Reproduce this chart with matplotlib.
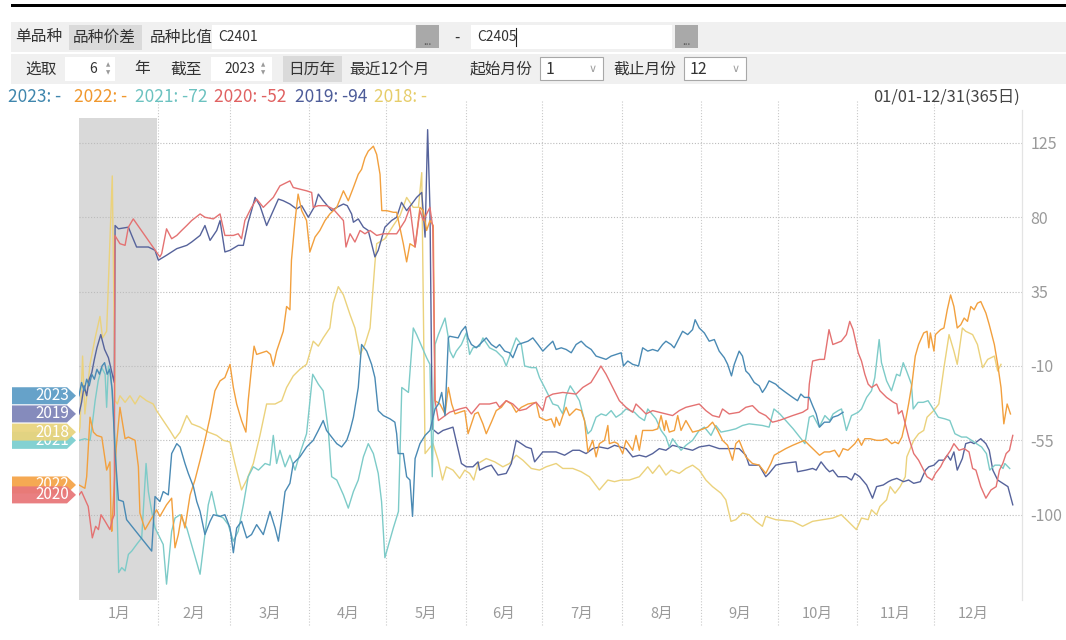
import matplotlib
matplotlib.use('Agg')
import matplotlib.pyplot as plt
from matplotlib.patches import Rectangle, Polygon
import matplotlib.transforms as mtransforms

plt.rcParams['font.family'] = ['Noto Sans CJK SC', 'DejaVu Sans']

# ---------------- data (day of year, spread value) ----------------
years = ['2023', '2022', '2021', '2020', '2019', '2018']
legend_texts = ['2023: -', '2022: -', '2021: -72', '2020: -52', '2019: -94', '2018: -']
month_labels = ['1月', '2月', '3月', '4月', '5月', '6月', '7月', '8月', '9月', '10月', '11月', '12月']
month_days = [31, 28, 31, 30, 31, 30, 31, 31, 30, 31, 30, 31]
y_ticks = [125, 80, 35, -10, -55, -100]

s2018 = [(0,-50),(0.4,-47),(1.4,-4),(2.3,-39),(4.3,-9),(6.3,7),(8.2,20),(9.2,7),(10.8,11),(13,105),(14.1,-31),(15,-33),(16,-28),(18,-32),(19.9,-28),(21.9,-33),(23.8,-28),(26.4,-31),(29,-33),(30.3,-37),(32.9,-43),(35.5,-49),(37.5,-54),(39.5,-50),(42.1,-40),(44,-45),(47.3,-47),(50.5,-50),(53.8,-52),(56.4,-55),(59,-56),(60.9,-69),(63.5,-85),(65.5,-79),(68.1,-69),(70.7,-52),(73.3,-33),(76.6,-33),(79.2,-31),(81.1,-23),(83.7,-16),(86.3,-12),(88.9,-9),(91.5,5),(93.5,2),(95.4,7),(98,13),(99.3,28),(101.3,38),(103.3,33),(105.9,21),(107.8,13),(109.8,-3),(111.7,3),(113.7,13),(115.6,52),(116.3,64),(119.5,67),(122.8,75),(125.4,81),(128,92),(130.6,86),(132.6,86),(133.9,107),(135.2,-63),(138.3,-57),(140.3,-67),(142,-79),(143.5,-71),(146.1,-73),(148.7,-78),(150.7,-73),(152.6,-75),(154.2,-79),(155.9,-69),(159.1,-66),(162.4,-68),(165.6,-71),(168.2,-69),(170.8,-64),(173.4,-67),(176.7,-72),(179.9,-73),(182.5,-71),(186.4,-69),(189,-72),(192.9,-72),(196.2,-74),(199.4,-77),(203.3,-85),(206.6,-79),(209.2,-80),(211.8,-79),(215,-79),(218.9,-77),(222.2,-71),(224.1,-75),(226.7,-70),(229.3,-76),(231.3,-73),(234.5,-75),(237.1,-72),(239.7,-70),(242.3,-73),(244.9,-79),(247.5,-83),(250.8,-87),(252.7,-91),(254.7,-104),(256.6,-103),(259.2,-99),(261.8,-100),(264.4,-104),(267,-107),(268.3,-101),(272.2,-103),(278.8,-104),(282.7,-107),(286.6,-104),(290.6,-103),(294.5,-102),(297.8,-100),(299.8,-103),(303.7,-109),(305.7,-102),(308.3,-103),(309.6,-97),(311.6,-100),(312.9,-95),(315.5,-91),(316.9,-83),(318.8,-87),(320.8,-83),(322.8,-77),(323.4,-65),(326.1,-55),(328,-51),(330,-49),(331.3,-41),(333.9,-37),(335.9,-33),(337.9,-11),(339.9,9),(341.8,-1),(343.1,-9),(345.1,13),(346.4,11),(349.1,9),(351,3),(353,-11),(355,-6),(357.6,-4),(358.9,-13),(360.2,-9)]

s2019 = [(0,-39),(1,-32),(2,-22),(3,-28),(4,-18),(5,-14),(6,-6),(7,1),(8.5,9),(10,0),(11.5,-5),(13,-15),(13.8,-20),(14.1,75),(15.4,73),(19.3,74),(20.6,69),(22.5,62),(27.1,62),(29.7,60),(31,54),(34.2,57),(38.2,61),(42.1,63),(44,65),(47.3,69),(49.2,75),(51.2,66),(53.8,72),(55.1,78),(57,59),(59,60),(62.2,63),(64.2,63),(66.1,77),(67.4,84),(68.8,92),(70.7,87),(73.3,75),(75.3,82),(77.9,91),(79.8,90),(82.4,88),(85,85),(87,87),(89.6,80),(92.2,87),(93.5,94),(95.4,90),(98.7,84),(100.7,86),(103.3,88),(104.8,87),(106.5,82),(107.2,77),(109.1,79),(111.1,74),(113,72),(115.6,56),(116.9,60),(119.5,74),(122.1,78),(124.1,80),(126,89),(128,84),(130,88),(131.9,92),(133.9,95),(135.2,68),(136.2,133),(137.1,86),(138,-48),(140.3,-51),(142.2,-49),(146.1,-47),(149.4,-69),(151.3,-71),(153.9,-71),(155.9,-68),(156.5,-73),(159.1,-71),(161.1,-70),(163.7,-76),(166.9,-75),(168.9,-69),(170.8,-55),(172.8,-57),(174.7,-59),(176.7,-60),(178,-68),(181.2,-62),(186.4,-62),(189.7,-64),(192.9,-61),(195.5,-61),(198.1,-63),(200.7,-60),(203.3,-59),(206.6,-60),(209.2,-58),(213.7,-60),(216.3,-65),(218.9,-64),(221.5,-65),(224.1,-63),(226.7,-60),(229.3,-61),(231.9,-58),(234.5,-59),(239.7,-61),(242.3,-59),(246.2,-58),(250.1,-60),(255.3,-60),(257.9,-60),(260.5,-64),(261.8,-70),(265.7,-70),(268.3,-77),(269.6,-75),(272.2,-70),(275,-69),(280.1,-68),(280.7,-74),(284,-73),(286.6,-72),(288,-73),(289.9,-68),(291.9,-72),(293.2,-74),(294.5,-73),(296.5,-77),(299.8,-77),(301.8,-79),(303.1,-75),(305,-77),(307.7,-82),(310,-90),(311.6,-83),(314.2,-82),(316.2,-80),(317.5,-79),(319.5,-78),(322.1,-80),(324.1,-79),(326.1,-81),(328.7,-80),(330.7,-73),(332,-71),(334,-70),(335.9,-67),(337.9,-67),(339.2,-64),(340.5,-67),(341.8,-62),(343.1,-73),(345.1,-66),(346.4,-57),(348.4,-56),(349.7,-57),(352.3,-54),(354.3,-57),(355.6,-61),(357,-73),(358.9,-79),(360.9,-81),(362.9,-83),(364.8,-94)]

s2020 = [(0,-88),(1,-86),(3.6,-95),(5.2,-114),(6.5,-107),(7.6,-109),(8.6,-100),(10.2,-104),(12.1,-109),(13,-103),(13.8,-100),(14,69),(16,64),(18,63),(19.3,74),(21.2,79),(31.6,56),(32.3,58),(34.2,73),(36.2,67),(38.2,69),(40.1,72),(42.1,75),(44,78),(47.3,82),(49.2,80),(52.5,79),(55.1,82),(57,69),(60.3,69),(62.2,70),(63.5,67),(64.8,78),(67.4,86),(69.4,91),(72,86),(75.9,92),(78.5,99),(82.4,102),(83.7,98),(86.3,97),(88.9,96),(90.9,95),(91.5,86),(93.5,87),(96.7,87),(99.3,85),(103.3,78),(104.3,62),(105.9,70),(107.8,65),(109.8,72),(111.7,70),(113.7,72),(116.3,69),(118.9,70),(122.8,70),(124.1,70),(127.4,78),(129.3,86),(131.3,62),(133.2,84),(134.5,78),(137.1,86),(138.2,74),(139.1,-31),(140.4,-43),(144.8,-38),(148.7,-36),(151.3,-35),(153.3,-39),(156.5,-33),(160.4,-33),(163,-32),(164.3,-35),(166.9,-31),(169.5,-33),(172.1,-37),(174.7,-36),(177.3,-33),(178.6,-32),(181.2,-37),(182.5,-29),(185.1,-27),(189,-26),(194.2,-27),(196.8,-23),(200,-20),(202,-15),(203.9,-10),(205.9,-15),(208.5,-23),(211.1,-31),(213.7,-35),(216.3,-38),(217.6,-33),(219.6,-36),(221.5,-39),(224.1,-37),(229.3,-39),(231.9,-40),(234.5,-37),(237.1,-35),(239.7,-34),(242.3,-33),(244.9,-37),(247.5,-40),(250.1,-41),(251.4,-36),(254,-39),(257.9,-38),(260.5,-35),(263.1,-34),(265.7,-38),(268.3,-40),(270.9,-44),(273.5,-43),(278.8,-40),(282.7,-38),(284.7,-36),(285.3,-21),(286.6,-7),(289.3,-6),(291.2,-6),(293,12),(294.5,3),(297.8,5),(299.8,9),(301.1,17),(302.4,12),(304.4,-2),(305.7,-7),(307,-15),(308.3,-21),(309.6,-23),(311.6,-21),(312.9,-25),(315.5,-29),(318.2,-32),(319.5,-33),(320.1,-39),(321.5,-37),(322.8,-45),(324.1,-53),(326.1,-63),(328,-67),(330,-73),(331.3,-77),(333.3,-79),(334.6,-75),(336.6,-71),(337.9,-67),(340.5,-61),(341.8,-57),(343.8,-61),(345.8,-60),(347.7,-62),(349.1,-72),(350.4,-73),(352.3,-83),(354.3,-90),(356.3,-85),(358.3,-83),(359.6,-73),(360.9,-69),(362.2,-63),(363.5,-61),(364.8,-52)]

s2021 = [(0,-55),(2.3,-54),(4.3,-55),(5.2,-45),(6.3,-31),(7.5,-19),(8.9,-11),(10.2,-15),(10.8,-35),(11.5,-10),(12.5,-16),(13.5,-40),(14.3,-62),(15.5,-135),(16.7,-132),(18,-134),(19.3,-124),(20.6,-122),(22.5,-118),(24.5,-114),(26.2,-69),(27.1,-86),(28.4,-98),(29.7,-108),(31.6,-114),(32.9,-118),(34.2,-142),(36.2,-110),(37.5,-102),(39.5,-100),(42.1,-108),(44.7,-122),(47.3,-136),(49.2,-112),(50.5,-94),(51.8,-86),(53.8,-100),(56.4,-102),(58.3,-106),(60.3,-116),(62.2,-110),(64.2,-94),(66.1,-77),(68.1,-71),(70.1,-73),(72.7,-69),(74.6,-70),(75.9,-52),(77.2,-69),(78.5,-61),(80.5,-71),(82.4,-64),(84.4,-73),(86.3,-63),(88.9,-51),(91.3,-15),(93.5,-21),(95.4,-25),(97.4,-49),(98.7,-77),(100.7,-79),(103.3,-88),(105.2,-96),(107.2,-86),(109.1,-79),(111.1,-65),(113,-57),(115,-63),(116.9,-75),(118.2,-92),(119.5,-126),(122.8,-108),(124.8,-98),(126.1,-23),(128.7,-26),(130.6,13),(131.9,9),(135.8,-5),(137.1,-9),(138,-77),(139.1,3),(140.4,9),(143,19),(144.3,7),(144.9,-1),(146.2,-5),(147.4,-1),(149.4,3),(151.3,10),(152.6,-3),(153.9,1),(156.5,2),(157.8,7),(160.4,1),(163,-1),(165.6,-5),(166.9,-10),(168.9,-1),(170.8,7),(172.8,3),(174.1,-10),(176.7,-11),(178.6,-11),(179.9,-17),(181.9,-23),(183.8,-29),(185.1,-33),(187.1,-34),(189,-39),(190.3,-28),(191.9,-22),(193.6,-26),(195.5,-31),(197.5,-43),(198.8,-51),(200.1,-49),(202,-41),(204,-39),(205.9,-40),(207.9,-37),(209.8,-41),(211.8,-39),(213.7,-36),(217,-38),(218.9,-41),(220.9,-43),(222.2,-36),(225.4,-42),(227.4,-49),(229.3,-53),(230.6,-59),(231.9,-54),(235.2,-61),(237.1,-58),(239.7,-55),(242.3,-49),(244.3,-47),(246.9,-52),(248.8,-46),(250.8,-50),(254,-49),(256.6,-48),(259.2,-46),(261.8,-45),(267,-46),(269.6,-47),(271.5,-36),(273.8,-39),(279,-48),(283.6,-57),(285.3,-41),(286.8,-40),(289.2,-47),(291.4,-40),(293.3,-43),(294.6,-39),(296.6,-37),(297.9,-36),(299.8,-49),(301.8,-40),(304.4,-38),(305.7,-36),(307.7,-29),(309.6,-25),(310.9,-17),(312.6,6),(313.5,-8),(315.5,-19),(317.4,-25),(319.4,-15),(320.7,-16),(322,-8),(323.3,-13),(325.2,-21),(325.9,-36),(327.8,-32),(329.8,-32),(331.7,-31),(333.7,-36),(335.7,-41),(338.3,-42),(340.2,-43),(342.2,-51),(344.8,-53),(346.7,-53),(348.7,-55),(350.6,-57),(352.6,-59),(354.5,-63),(355.8,-73),(357.8,-70),(359.7,-70),(361,-72),(361.7,-69),(363.6,-72)]

s2022 = [(0,-82),(2.3,-84),(3,-77),(4.3,-41),(5.6,-50),(6.9,-52),(8.9,-53),(10.8,-73),(12.1,-68),(12.5,-103),(12.8,-110),(14.5,-60),(16,-35),(18,-54),(19.3,-53),(21.9,-55),(23.2,-71),(23.8,-99),(25.8,-109),(28.4,-102),(30.3,-97),(31.6,-101),(34.2,-94),(36.2,-90),(37.5,-120),(38.8,-112),(40.1,-100),(41.4,-108),(43.4,-88),(45.3,-79),(47.3,-67),(49.2,-55),(51.2,-41),(53.1,-25),(55.1,-19),(57,-17),(59,-9),(60.3,-23),(61.6,-33),(63.5,-43),(65.2,-50),(66.1,-31),(67.4,-11),(68.4,2),(69.4,-3),(71.3,-2),(73.3,-1),(74.8,-3),(75.9,-10),(77.2,-1),(78.5,5),(79.8,11),(81.1,26),(82.4,24),(83,54),(84.4,78),(85.6,94),(87,84),(88.9,78),(90.2,59),(92.2,68),(94.1,72),(96.1,78),(98,82),(100.7,86),(103.3,96),(105.2,90),(107.2,98),(109.1,106),(110.4,109),(111.7,116),(113,120),(115,123),(116.3,118),(117.6,106),(118.3,84),(120.2,84),(122.8,83),(124.1,83),(126.7,64),(128,53),(129.3,64),(131.3,62),(133.2,86),(134.5,84),(135.8,72),(137.1,78),(138.4,75),(139.1,-31),(141,-33),(143,-39),(144.3,-23),(145.6,-33),(146.9,-39),(148.7,-38),(150.7,-37),(152,-51),(153.3,-45),(154.6,-39),(155.9,-38),(157.8,-45),(159.1,-51),(161.1,-44),(163,-37),(165,-35),(166.9,-31),(168.9,-33),(170.8,-38),(172.8,-35),(175.4,-33),(178.6,-32),(179.9,-41),(182.5,-43),(184.5,-42),(185.8,-47),(186.4,-41),(187.7,-46),(189,-40),(190.3,-35),(191.6,-40),(194.2,-36),(196.2,-37),(197.5,-43),(198.8,-62),(200.7,-55),(202,-65),(203.3,-57),(205.3,-55),(206.6,-46),(207.2,-57),(209.2,-56),(210.5,-57),(212.4,-63),(213.7,-55),(215,-58),(216.3,-61),(217.6,-52),(218.9,-61),(220.2,-49),(224.1,-49),(226.1,-48),(227.4,-40),(228.7,-49),(229.3,-43),(230.6,-50),(232.6,-49),(233.9,-40),(235.2,-49),(237.1,-43),(239.7,-50),(242.3,-49),(245.6,-47),(247.5,-44),(249.5,-49),(251.4,-55),(253.4,-58),(255.3,-67),(256.6,-57),(257.9,-55),(260.5,-65),(263.1,-69),(265.7,-70),(268.3,-75),(270.3,-69),(271.6,-64),(276.1,-60),(278.8,-58),(283.4,-55),(285.3,-58),(287.3,-61),(289.3,-64),(291.2,-62),(293.2,-62),(295.2,-61),(296.9,-65),(298.5,-60),(300.4,-61),(303.1,-57),(304.4,-54),(305.7,-58),(307,-54),(309,-54),(311.6,-55),(313.6,-55),(315.5,-54),(317.5,-57),(318.8,-56),(320.1,-57),(321.5,-53),(322.8,-44),(324.1,-33),(325.4,-21),(326.7,-4),(328,3),(330,10),(331.3,11),(332,1),(332.6,10),(334,-1),(334.6,9),(336.6,12),(337.9,13),(339.2,24),(340.5,33),(341.8,26),(343.1,13),(344.5,15),(345.8,19),(347.1,17),(348.4,26),(349.7,24),(351,28),(352.3,29),(354.3,22),(355.6,15),(357.6,3),(358.9,-9),(360.2,-23),(361.3,-45),(362.6,-33),(363.9,-39)]

s2023 = [(0,-28),(1,-20),(2,-25),(3,-18),(4,-22),(5,-15),(6,-18),(7,-12),(8,-15),(9,-10),(10,-8),(11,-15),(12,-12),(13,-25),(14,-60),(15.4,-91),(17.3,-92),(18.6,-103),(28.4,-122),(29.7,-89),(31.6,-92),(32.9,-86),(34.9,-88),(36.2,-63),(38.2,-57),(39.5,-59),(41.4,-69),(42.7,-75),(44.7,-83),(46,-92),(47.3,-98),(49.2,-112),(51.2,-104),(52.5,-100),(55.1,-101),(57,-100),(59,-108),(60.3,-123),(61.6,-108),(63.5,-104),(65.5,-114),(67.4,-112),(69.4,-106),(72,-112),(74.6,-98),(76.6,-108),(77.9,-116),(79.2,-102),(80.5,-86),(82.4,-81),(83.7,-69),(86.3,-65),(88.9,-59),(91.5,-55),(93.5,-49),(95.4,-43),(96.7,-49),(98.7,-53),(100.7,-57),(102.6,-59),(104.6,-55),(105.9,-49),(107.2,-41),(109.1,-23),(110.4,3),(112.4,-1),(114.3,-9),(115.6,-17),(116.9,-37),(118.9,-40),(121.5,-42),(123.4,-44),(124.1,-51),(124.7,-63),(126.7,-63),(128,-77),(129.3,-79),(130.3,-101),(131.3,-66),(133.2,-57),(135.2,-52),(137.1,-49),(139.1,-36),(140.4,-33),(141.7,-26),(143,-40),(144.3,7),(144.8,8),(148.1,7),(149.4,11),(151,14),(152,7),(153.3,3),(155.2,1),(157.8,5),(159.1,7),(161.1,3),(163,1),(164.3,3),(166.3,-1),(168.2,-2),(169.5,-5),(171.5,3),(173.4,4),(175.4,5),(177.3,7),(179.3,3),(181.2,-1),(183.1,2),(185.1,5),(186.4,0),(188.4,1),(190.3,0),(192.3,-2),(194.2,3),(196.2,5),(198.1,2),(200.1,0),(202,-4),(204,-5),(205.9,-6),(207.9,-4),(211.8,-2),(212.7,-10),(214.4,-7),(216.3,-9),(218.6,-10),(220.2,1),(222.2,-1),(224.1,0),(226.1,-1),(228,3),(229.3,5),(231.3,3),(232.5,1),(234.5,7),(235.8,11),(237.8,9),(239.7,12),(240.7,18),(242.3,13),(244.3,10),(246.2,5),(248.2,6),(250.1,-1),(252.1,-5),(253.4,-9),(254.9,-16),(256,-9),(257.9,-1),(259.2,-4),(260.5,-13),(261.8,-15),(263.8,-20),(265.7,-22),(267,-26),(268.3,-23),(269.6,-19),(272.2,-21),(273.5,-23),(276.1,-26),(278.8,-29),(280.7,-31),(282,-27),(283.4,-29),(285.3,-29),(286.6,-34),(288,-39),(289.3,-47),(291.2,-44),(293.2,-44),(294.5,-41),(296.5,-40),(298.5,-38)]

series = {'2018': s2018, '2019': s2019, '2020': s2020, '2021': s2021, '2022': s2022, '2023': s2023}
line_colors = {'2023': '#4a8ab4', '2022': '#f2a03e', '2021': '#7dcbc8',
               '2020': '#e47272', '2019': '#56639b', '2018': '#ebd27c'}
tag_colors = {'2023': '#5e9dc6', '2022': '#f5a54a', '2021': '#7ccfd0',
              '2020': '#e8787a', '2019': '#7f85b9', '2018': '#e8d47e'}
text_colors = {'2023': '#3f86ad', '2022': '#f0982e', '2021': '#6cc2c0',
               '2020': '#e06262', '2019': '#4d5c99', '2018': '#e6cd6a'}

# ---------------- figure ----------------
W, H = 1066, 640
fig = plt.figure(figsize=(W / 100, H / 100), dpi=100)
fig.patch.set_facecolor('white')

def fx(x):
    return x / W

def fy(y):
    return 1 - y / H

def box(x0, y0, x1, y1, fc, ec='none', lw=0.8, z=1):
    fig.add_artist(Rectangle((fx(x0), fy(y1)), fx(x1) - fx(x0), fy(y0) - fy(y1),
                             transform=fig.transFigure, facecolor=fc, edgecolor=ec,
                             linewidth=lw, zorder=z))

def label(x, y, s, size=11.3, color='#333333', ha='left', **kw):
    return fig.text(fx(x), fy(y), s, fontsize=size, color=color, ha=ha, va='center', **kw)

# top black bar
box(11, 4, 1066, 7, 'black')
# toolbar background
box(11, 22, 1066, 52, '#f0f0f0')
box(11, 54, 1066, 84, '#f0f0f0')

# row 1
label(15, 37, '单品种')
box(69, 25, 142, 50, '#dadada', z=2)
label(73, 37, '品种价差')
label(150, 37, '品种比值')
box(212, 25, 415, 49, 'white', z=2)
label(218, 37, 'C2401', size=10, color='#333333')
box(416, 25, 439, 48, '#a9a9a9', z=2)
label(427.5, 42, '...', size=7, color='#505050', ha='center')
label(457, 37, '-', size=11, ha='center')
box(471, 25, 672, 49, 'white', z=2)
label(477, 37, 'C2405', size=10, color='#333333')
fig.add_artist(plt.Line2D([fx(516), fx(516)], [fy(28), fy(46)], color='#222222', lw=0.8))
box(675, 25, 698, 48, '#a9a9a9', z=2)
label(686.5, 42, '...', size=7, color='#505050', ha='center')

# row 2
label(25, 69, '选取')
box(65, 57, 115, 81, 'white', z=2)
label(97, 69, '6', size=10, ha='right')
label(108, 64.5, '▲', size=4, color='#9a9a9a', ha='center', family='DejaVu Sans')
label(108, 73, '▼', size=4, color='#9a9a9a', ha='center', family='DejaVu Sans')
label(134, 69, '年')
label(170, 69, '截至')
box(211, 57, 272, 81, 'white', z=2)
label(224, 69, '2023', size=10)
label(263, 64.5, '▲', size=4, color='#9a9a9a', ha='center', family='DejaVu Sans')
label(263, 73, '▼', size=4, color='#9a9a9a', ha='center', family='DejaVu Sans')
box(283, 56, 342, 82, '#dadada', z=2)
label(288, 69, '日历年')
label(349, 69, '最近12个月')
label(470, 69, '起始月份')
box(540, 57, 603, 80, 'white', ec='#a8a8a8', z=2)
label(546, 69, '1', size=11.5)
label(593, 69, '∨', size=8, color='#a0a0a0', ha='center', family='DejaVu Sans')
label(613, 69, '截止月份')
box(684, 57, 746, 80, 'white', ec='#a8a8a8', z=2)
label(690, 69, '12', size=11.5)
label(736, 69, '∨', size=8, color='#a0a0a0', ha='center', family='DejaVu Sans')

# legend row
legend_x = [8, 74, 135, 214, 295, 374]
for yr, txt, lx in zip(years, legend_texts, legend_x):
    label(lx, 97, txt, size=12.5, color=text_colors[yr])
label(1020, 97, '01/01-12/31(365日)', size=11.8, color='#444444', ha='right')

# ---------------- chart axes ----------------
ax = fig.add_axes([fx(79), fy(600), fx(1022) - fx(79), fy(110) - fy(600)])
ax.set_xlim(0, 368.4)
ax.set_ylim(-151.6, 144.9)
ax.set_facecolor('none')
for side in ['left', 'top', 'bottom']:
    ax.spines[side].set_visible(False)
ax.spines['right'].set_color('#e4e4e4')
ax.spines['right'].set_linewidth(0.9)

# January shading
ax.add_patch(Rectangle((0, ax.get_ylim()[0]), month_days[0] - 0.5, 140 - ax.get_ylim()[0],
                       facecolor='#d9d9d9', edgecolor='none', zorder=0))

# grid
for t in y_ticks:
    ax.axhline(t, color='#bcbcbc', lw=0.8, ls=(0, (1, 1.6)), zorder=1)
trans = mtransforms.blended_transform_factory(ax.transData, ax.transAxes)
bounds = []
acc = 0
for md in month_days[:-1]:
    acc += md
    bounds.append(acc)
for b in bounds:
    ax.plot([b, b], [-0.05, 1.02], transform=trans, color='#c9c9c9', lw=0.8,
            ls=(0, (1, 1.6)), clip_on=False, zorder=1)

# lines
for yr in ['2018', '2019', '2021', '2022', '2020', '2023']:
    pts = series[yr]
    ax.plot([p[0] for p in pts], [p[1] for p in pts], color=line_colors[yr],
            lw=1.0, zorder=3, solid_joinstyle='round')

# y axis on right
ax.yaxis.tick_right()
ax.set_yticks(y_ticks)
ax.set_yticklabels([str(t) for t in y_ticks])
ax.tick_params(axis='y', length=0, pad=6, labelcolor='#9a9a9a', labelsize=11.5)
ax.set_xticks([])

# month labels
mids = []
acc = 0
for md in month_days:
    mids.append(acc + md / 2)
    acc += md
for m, lab in zip(mids, month_labels):
    ax.text(m, -0.029, lab, transform=trans, ha='center', va='center',
            fontsize=10.5, color='#9a9a9a')

# start-value tags on the left (later tags cover earlier ones, as in the reference)
fig.canvas.draw()
tag_order = ['2021', '2018', '2022', '2020', '2019', '2023']
for i, yr in enumerate(tag_order):
    v0 = series[yr][0][1]
    ydisp = ax.transData.transform((0, v0))[1]
    Y = H - ydisp
    hh = 8.5
    pts = [(12, Y - hh), (67, Y - hh), (76, Y), (67, Y + hh), (12, Y + hh)]
    poly = Polygon([(fx(px), fy(py)) for px, py in pts], closed=True,
                   transform=fig.transFigure, facecolor=tag_colors[yr],
                   edgecolor='none', alpha=0.95, zorder=10 + 2 * i)
    fig.add_artist(poly)
    fig.text(fx(52), fy(Y), yr, fontsize=11, color='white', ha='center',
             va='center', zorder=11 + 2 * i)

fig.savefig('out.png', dpi=100, facecolor='white')
